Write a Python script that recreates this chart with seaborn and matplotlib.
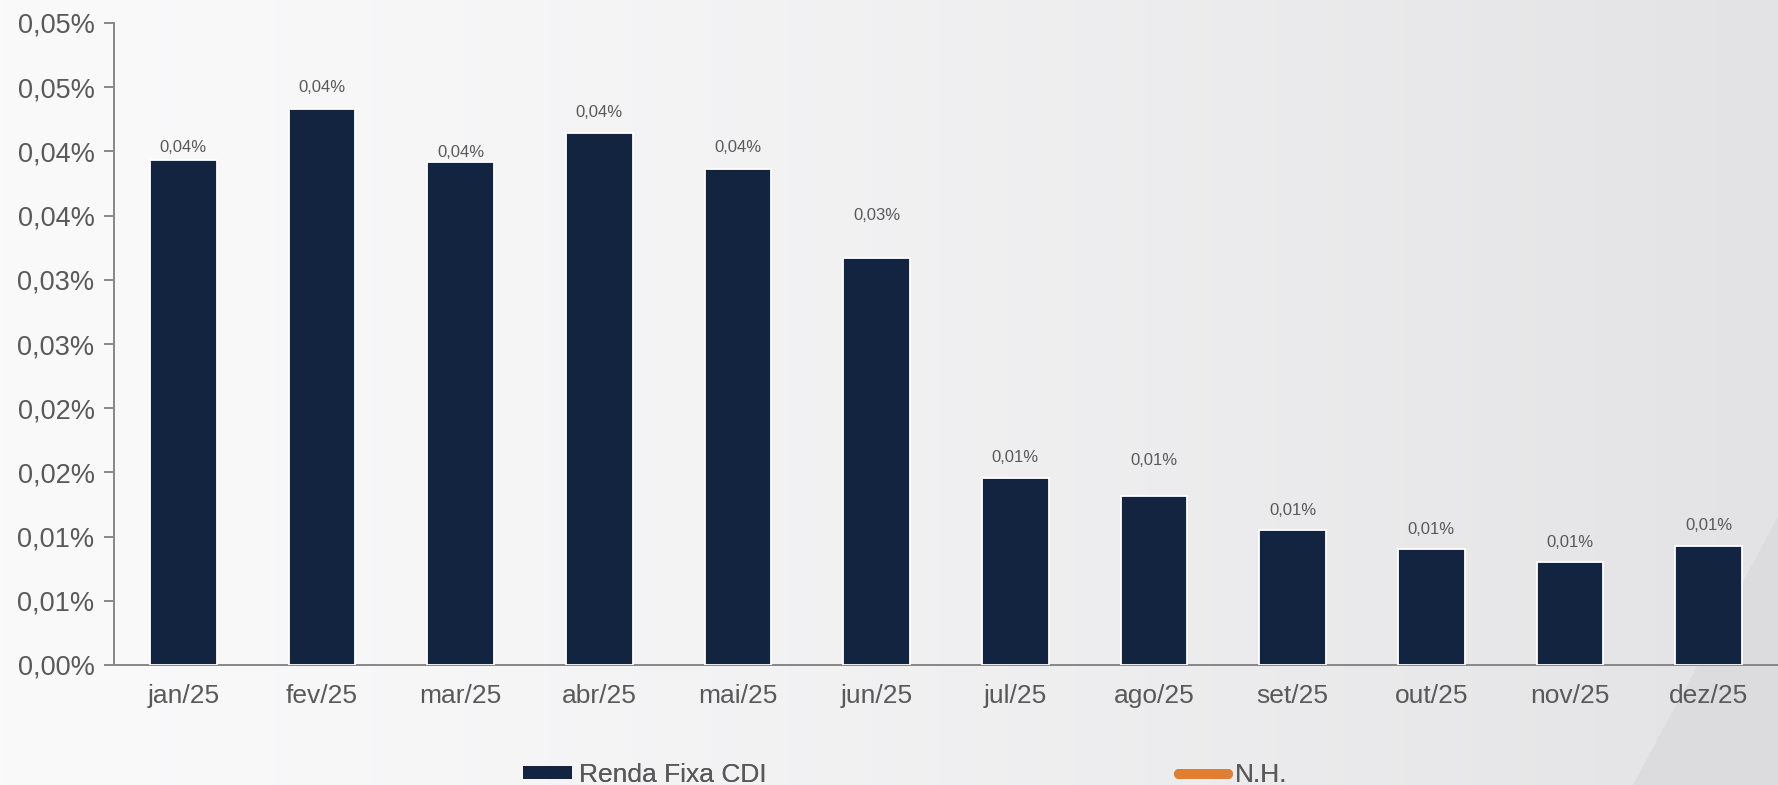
from decimal import Decimal, ROUND_HALF_UP

import numpy as np
import matplotlib
matplotlib.use("Agg")
import matplotlib.pyplot as plt
from matplotlib.lines import Line2D
from matplotlib.patches import Patch, Polygon
from matplotlib.ticker import FuncFormatter, MultipleLocator
import seaborn as sns

# Monthly returns (% per month)
months = ["jan/25", "fev/25", "mar/25", "abr/25", "mai/25", "jun/25",
          "jul/25", "ago/25", "set/25", "out/25", "nov/25", "dez/25"]
renda_fixa_cdi = [0.0393, 0.0433, 0.0392, 0.0414, 0.0386, 0.0317,
                  0.0146, 0.0132, 0.0105, 0.0090, 0.0080, 0.0093]
series_names = ["Renda Fixa CDI", "N.H."]

# vertical gap (points) between each bar top and its value label
label_gaps = [4, 10, 1, 10, 10, 25, 9, 20, 9, 9, 9, 9]

BAR = "#12243f"
ORANGE = "#dd7f35"
TXT = "#595959"
SPINE = "#878787"

sns.set_theme(style="white")
plt.rcParams["font.family"] = ["Liberation Sans", "DejaVu Sans"]


def pct(v):
    d = Decimal(str(round(v, 6))).quantize(Decimal("0.01"), rounding=ROUND_HALF_UP)
    return f"{d}%".replace(".", ",")


fig = plt.figure(figsize=(17.78, 7.85), dpi=100)

# background: soft horizontal grey gradient with a darker diagonal facet
bg = fig.add_axes([0, 0, 1, 1], zorder=-10)
bg.set_axis_off()
grad = np.linspace(0, 1, 512)
left_c = np.array([250, 250, 251]) / 255
right_c = np.array([227, 227, 229]) / 255
ramp = grad ** 1.3
img = left_c[None, :] * (1 - ramp[:, None]) + right_c[None, :] * ramp[:, None]
bg.imshow(img[None, :, :], aspect="auto", extent=[0, 1, 0, 1])
bg.add_patch(Polygon([[1.0, 1 - 517 / 785], [1.0, 0.0], [1633 / 1778, 0.0]],
                     closed=True, facecolor="#dcdcde", edgecolor="none"))
bg.set_xlim(0, 1)
bg.set_ylim(0, 1)

ax = fig.add_axes([114 / 1778, 1 - 665 / 785, 1 - 114 / 1778, (665 - 23) / 785])
ax.patch.set_alpha(0)

sns.barplot(x=months, y=renda_fixa_cdi, color=BAR, saturation=1, width=0.48,
            edgecolor="white", linewidth=1.3, ax=ax, zorder=3)

for i, (v, g) in enumerate(zip(renda_fixa_cdi, label_gaps)):
    ax.annotate(pct(v), (i, v), xytext=(0, g), textcoords="offset points",
                ha="center", va="bottom", fontsize=12, color=TXT)

ax.set_xlim(-0.5, len(months) - 0.5)
ax.set_ylim(0, 0.05)
ax.yaxis.set_major_locator(MultipleLocator(0.005))
ax.yaxis.set_major_formatter(FuncFormatter(lambda v, p: pct(v)))

ax.set_xticks(np.arange(len(months)))
ax.set_xticklabels(months)
ax.set_xticks(np.arange(len(months) + 1) - 0.5, minor=True)
ax.tick_params(axis="x", which="major", length=0, pad=14, labelsize=19, labelcolor=TXT)
ax.tick_params(axis="x", which="minor", length=7, width=1.4, color=SPINE, direction="out")
ax.tick_params(axis="y", length=7, width=1.4, color=SPINE, direction="out",
               pad=7, labelsize=19.5, labelcolor=TXT, left=True)
ax.set_xlabel("")
ax.set_ylabel("")

for side in ("top", "right"):
    ax.spines[side].set_visible(False)
for side in ("left", "bottom"):
    ax.spines[side].set_color(SPINE)
    ax.spines[side].set_linewidth(1.4)
ax.grid(False)

# legend entries placed one by one along the bottom edge
legend_handles = [Patch(facecolor=BAR, edgecolor="none"),
                  Line2D([0], [0], color=ORANGE, lw=7.2, solid_capstyle="round")]
legend_x = [523 / 1778, 1179 / 1778]
for h, name, lx in zip(legend_handles, series_names, legend_x):
    leg = fig.legend([h], [name], loc="center left",
                     bbox_to_anchor=(lx, 1 - 775 / 785), frameon=False,
                     handlelength=1.86, handleheight=0.42, handletextpad=0.27,
                     borderpad=0, borderaxespad=0,
                     prop={"family": ["Liberation Sans", "DejaVu Sans"], "size": 19})
    for t in leg.get_texts():
        t.set_color(TXT)
    fig.add_artist(leg)

fig.savefig("out.png", dpi=100)
